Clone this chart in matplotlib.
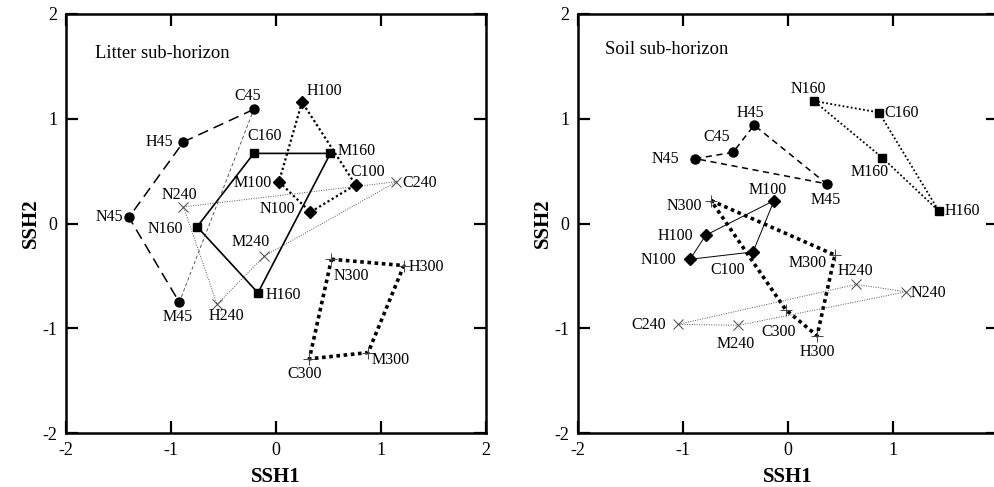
import matplotlib
matplotlib.use("Agg")
import matplotlib.pyplot as plt

plt.rcParams["font.family"] = ["Liberation Serif", "DejaVu Serif"]
plt.rcParams["axes.unicode_minus"] = False

# ---- data ----------------------------------------------------------------
# Litter sub-horizon
litter_names = ["C45", "H45", "N45", "M45",
                "C160", "M160", "N160", "H160",
                "H100", "M100", "C100", "N100",
                "N240", "C240", "M240", "H240",
                "N300", "H300", "M300", "C300"]
litter_x = [-0.21, -0.88, -1.40, -0.92,
            -0.21, 0.52, -0.75, -0.17,
            0.25, 0.03, 0.76, 0.33,
            -0.88, 1.15, -0.11, -0.56,
            0.53, 1.22, 0.88, 0.32]
litter_y = [1.09, 0.78, 0.06, -0.75,
            0.67, 0.67, -0.03, -0.66,
            1.16, 0.40, 0.37, 0.11,
            0.16, 0.40, -0.31, -0.77,
            -0.34, -0.40, -1.23, -1.29]

# Soil sub-horizon
soil_names = ["N45", "C45", "H45", "M45",
              "N160", "C160", "M160", "H160",
              "M100", "H100", "N100", "C100",
              "N300", "M300", "H300", "C300",
              "C240", "M240", "H240", "N240"]
soil_x = [-0.88, -0.52, -0.32, 0.37,
          0.25, 0.87, 0.90, 1.44,
          -0.13, -0.78, -0.93, -0.33,
          -0.73, 0.45, 0.28, -0.02,
          -1.04, -0.47, 0.65, 1.13]
soil_y = [0.62, 0.68, 0.94, 0.38,
          1.17, 1.06, 0.63, 0.12,
          0.22, -0.11, -0.34, -0.27,
          0.22, -0.30, -1.07, -0.82,
          -0.96, -0.97, -0.58, -0.65]

# order in which the points of each depth are joined
litter_groups = [["C45", "H45", "N45", "M45"],
                 ["C160", "M160", "H160", "N160", "C160"],
                 ["H100", "M100", "N100", "C100", "H100"],
                 ["N240", "C240", "M240", "H240", "N240"],
                 ["N300", "H300", "M300", "C300", "N300"]]
soil_groups = [["N45", "C45", "H45", "M45", "N45"],
               ["N160", "C160", "H160", "M160", "N160"],
               ["H100", "M100", "C100", "N100", "H100"],
               ["N300", "M300", "H300", "C300", "N300"],
               ["C240", "H240", "N240", "M240", "C240"]]

# label offsets in pixels (dx, dy)
litter_off = {"C45": (-6, 13), "H45": (-24, 0), "N45": (-20, 0), "M45": (-2, -15),
              "C160": (11, 17), "M160": (26, 2), "N160": (-32, -2), "H160": (25, -2),
              "H100": (22, 11), "M100": (-26, -1), "C100": (12, 13), "N100": (-33, 3),
              "N240": (-4, 12), "C240": (23, -1), "M240": (-14, 14), "H240": (9, -12),
              "N300": (20, -17), "H300": (23, -1), "M300": (23, -7), "C300": (-5, -15)}
soil_off = {"N45": (-30, 0), "C45": (-16, 15), "H45": (-4, 12), "M45": (-1, -16),
            "N160": (-6, 12), "C160": (23, 0), "M160": (-13, -14), "H160": (23, 0),
            "M100": (-6, 11), "H100": (-30, -1), "N100": (-32, -1), "C100": (-25, -18),
            "N300": (-27, -5), "M300": (-27, -8), "H240": (-1, 13), "N240": (22, -1),
            "C240": (-30, -1), "M240": (-3, -19), "C300": (-7, -22), "H300": (0, -16)}

markers = {"45": dict(marker="o", ms=6.5, mfc="black", mec="black"),
           "160": dict(marker="s", ms=6.3, mfc="black", mec="black"),
           "100": dict(marker="D", ms=5.8, mfc="black", mec="black"),
           "240": dict(marker="x", ms=6.5, mec="#444444", mew=0.7),
           "300": dict(marker="+", ms=8, mec="#444444", mew=0.7)}

litter_lines = {"45": dict(ls=(0, (7, 4)), lw=1.1, color="black"),
                "160": dict(ls="-", lw=1.2, color="black"),
                "100": dict(ls=(0, (1, 1.2)), lw=1.6, color="black"),
                "240": dict(ls=(0, (1, 1.5)), lw=0.7, color="#555555"),
                "300": dict(ls=(0, (1, 1)), lw=2.6, color="black")}
soil_lines = {"45": dict(ls=(0, (4, 3)), lw=1.1, color="black"),
              "160": dict(ls=(0, (1, 1.3)), lw=1.3, color="black"),
              "100": dict(ls="-", lw=0.7, color="black"),
              "240": dict(ls=(0, (1, 1.5)), lw=0.7, color="#555555"),
              "300": dict(ls=(0, (1, 1)), lw=2.6, color="black")}


def depth(name):
    return name[1:]


def draw_panel(ax, names, xs, ys, groups, lines, offsets, title, tx, ty):
    pos = {n: (x, y) for n, x, y in zip(names, xs, ys)}
    for g in groups:
        d = depth(g[0])
        gx = [pos[n][0] for n in g]
        gy = [pos[n][1] for n in g]
        ax.plot(gx, gy, zorder=2, **lines[d])
    for n in names:
        ax.plot(pos[n][0], pos[n][1], ls="none", zorder=3, **markers[depth(n)])
        dx, dy = offsets[n]
        ax.annotate(n, pos[n], xytext=(dx, dy), textcoords="offset pixels",
                    ha="center", va="center", fontsize=11.5, zorder=4)
    ax.text(tx, ty, title, fontsize=13.3, ha="left", va="center")
    ax.set_xlim(-2, 2)
    ax.set_ylim(-2, 2)
    ax.set_xticks([-2, -1, 0, 1, 2])
    ax.set_yticks([-2, -1, 0, 1, 2])
    ax.tick_params(direction="in", length=8.5, width=1.6, top=True, right=True,
                   labelsize=13, pad=6)
    for s in ax.spines.values():
        s.set_linewidth(1.8)
    ax.set_xlabel("SSH1", fontsize=15, fontweight="bold", labelpad=6)
    ax.set_ylabel("SSH2", fontsize=15, fontweight="bold", labelpad=1)


fig = plt.figure(figsize=(9.95, 4.87), dpi=100)
ax1 = fig.add_axes([0.0663, 0.1103, 0.4218, 0.861])
ax2 = fig.add_axes([0.5806, 0.1103, 0.4221, 0.861])

draw_panel(ax1, litter_names, litter_x, litter_y, litter_groups, litter_lines,
           litter_off, "Litter sub-horizon", -1.72, 1.62)
# thin closing segment of the 45 polygon on the litter plot
pos1 = dict(zip(litter_names, zip(litter_x, litter_y)))
ax1.plot([pos1["M45"][0], pos1["C45"][0]], [pos1["M45"][1], pos1["C45"][1]],
         ls=(0, (4, 3)), lw=0.6, color="#444444", zorder=2)

draw_panel(ax2, soil_names, soil_x, soil_y, soil_groups, soil_lines,
           soil_off, "Soil sub-horizon", -1.74, 1.66)

fig.savefig("out.png", dpi=100)
